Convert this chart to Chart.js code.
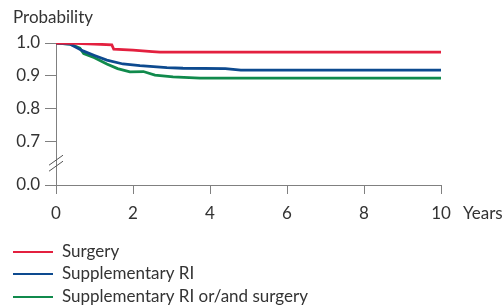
<!DOCTYPE html>
<html>
<head>
<meta charset="utf-8">
<script src="https://cdn.jsdelivr.net/npm/chart.js@4.4.1/dist/chart.umd.min.js"></script>
<style>
  html, body { margin: 0; padding: 0; background: #fff; }
  #wrap { width: 504px; height: 308px; position: relative; }
</style>
</head>
<body>
<div id="wrap"><canvas id="km"></canvas></div>
<script>
// values (years, probability)
const surgeryT = [0, 0.5, 1.0, 1.45, 1.5, 2.0, 2.5, 2.7, 10];
const surgeryP = [1.0, 0.999, 0.997, 0.994, 0.981, 0.978, 0.974, 0.972, 0.972];

const riT = [0, 0.36, 0.7, 1.0, 1.32, 1.74, 2.18, 2.88, 3.3, 4.4, 4.8, 10];
const riP = [1.0, 0.997, 0.976, 0.962, 0.948, 0.936, 0.931, 0.925, 0.923, 0.922, 0.917, 0.917];

const bothT = [0, 0.36, 0.62, 0.72, 1.0, 1.32, 1.6, 1.92, 2.27, 2.57, 3.04, 3.74, 10];
const bothP = [1.0, 0.997, 0.984, 0.968, 0.955, 0.936, 0.922, 0.912, 0.913, 0.902, 0.897, 0.893, 0.893];

const seriesNames = ["Surgery", "Supplementary RI", "Supplementary RI or/and surgery"];
const seriesColors = ["#e3203f", "#0d4a8f", "#108a4c"];

const xTicks = [0, 2, 4, 6, 8, 10];
const yTicks = [0.0, 0.7, 0.8, 0.9, 1.0];

// broken y axis: 0.0 .. 0.7 squeezed into a short piece
function yPos(v) {
  if (v >= 0.7) return v;
  return 0.7 - (0.7 - v) / 0.7 * 0.133;
}

function pts(ts, ps) {
  let out = [];
  for (let i = 0; i < ts.length; i++) out.push({x: ts[i], y: yPos(ps[i])});
  return out;
}

const font = "Lato, 'Open Sans', sans-serif";
const textColor = "#333";
const axisColor = "#808080";
const fs = 17;

const extras = {
  id: "extras",
  afterDraw(chart) {
    const c = chart.ctx;
    const a = chart.chartArea;
    const ys = chart.scales.y;
    c.save();
    // axis break marks
    const yb = (ys.getPixelForValue(yPos(0.7)) + ys.getPixelForValue(yPos(0))) / 2;
    c.strokeStyle = "#555";
    c.lineWidth = 1;
    for (let d of [-3, 3]) {
      c.beginPath();
      c.moveTo(a.left - 7, yb + d + 5);
      c.lineTo(a.left + 7, yb + d - 5);
      c.stroke();
    }
    c.fillStyle = textColor;
    c.font = fs + "px " + font;
    c.textBaseline = "middle";
    c.textAlign = "left";
    c.fillText("Probability", 13, 18);
    c.fillText("Years", 463, 214);
    // legend
    const rows = [252, 274, 297];
    chart.data.datasets.forEach(function(ds, i) {
      c.strokeStyle = ds.borderColor;
      c.lineWidth = 2;
      c.beginPath();
      c.moveTo(13, rows[i]);
      c.lineTo(53, rows[i]);
      c.stroke();
      c.fillText(ds.label, 62, rows[i]);
    });
    c.restore();
  }
};

new Chart(document.getElementById("km"), {
  type: "line",
  data: {
    datasets: [
      {label: seriesNames[0], data: pts(surgeryT, surgeryP), borderColor: seriesColors[0]},
      {label: seriesNames[1], data: pts(riT, riP), borderColor: seriesColors[1]},
      {label: seriesNames[2], data: pts(bothT, bothP), borderColor: seriesColors[2]}
    ].map(function(d) {
      d.borderWidth = 2.8;
      d.pointRadius = 0;
      d.fill = false;
      d.tension = 0;
      return d;
    })
  },
  options: {
    responsive: true,
    maintainAspectRatio: false,
    animation: false,
    layout: { padding: { left: 0, top: 43, right: 63, bottom: 0 } },
    plugins: { legend: { display: false }, tooltip: { enabled: false } },
    scales: {
      x: {
        type: "linear",
        min: 0, max: 10,
        afterBuildTicks: function(s) { s.ticks = xTicks.map(v => ({value: v})); },
        afterFit: function(s) { s.height = 123; },
        grid: { display: true, drawOnChartArea: false, drawTicks: true, tickLength: 9, color: axisColor },
        border: { display: true, color: axisColor, width: 1 },
        ticks: { color: textColor, font: { family: font, size: fs }, padding: 9, maxRotation: 0 }
      },
      y: {
        type: "linear",
        min: yPos(0), max: 1.0,
        afterBuildTicks: function(s) { s.ticks = yTicks.map(v => ({value: yPos(v)})); },
        afterFit: function(s) { s.width = 56; },
        grid: { display: true, drawOnChartArea: false, drawTicks: true, tickLength: 11, color: axisColor },
        border: { display: true, color: axisColor, width: 1 },
        ticks: {
          color: textColor, font: { family: font, size: fs }, padding: 5,
          callback: function(value, index) { return yTicks[index].toFixed(1); }
        }
      }
    }
  },
  plugins: [extras]
});
</script>
</body>
</html>
